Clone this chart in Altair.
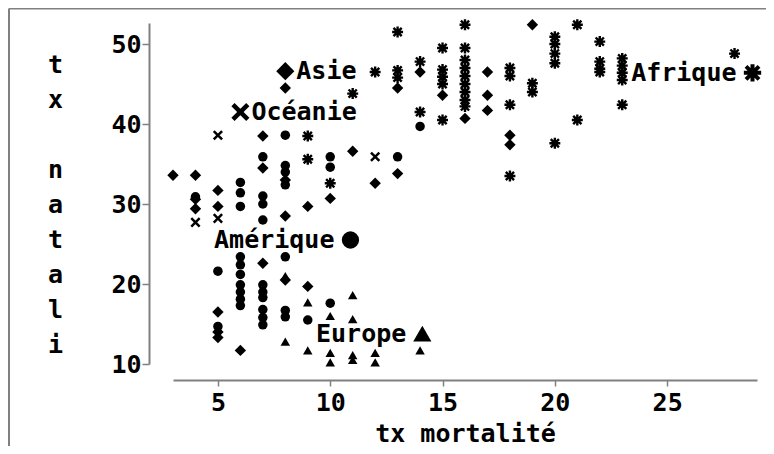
import altair as alt
import pandas as pd

FONT = "DejaVu Sans Mono"

# ---- data ----
afr_x = [13, 16, 21, 15, 16, 12, 13, 13, 14, 15, 15, 15, 16, 16, 16, 16, 16, 16, 16,
         18, 18, 19, 19, 20, 20, 20, 20, 22, 22, 22, 23, 23, 23, 23, 23, 21, 20, 18,
         18, 15, 14, 11, 9, 9, 10, 28, 22]
afr_y = [51.5, 52.4, 52.4, 49.5, 49.5, 46.5, 46.7, 45.8, 47.8, 46.8, 45.9, 45.0, 48.0,
         47.0, 46.0, 45.0, 44.0, 43.0, 42.2, 47.0, 46.0, 45.1, 44.0, 50.9, 50.0, 48.8,
         47.6, 50.3, 47.8, 46.5, 48.2, 47.3, 46.4, 45.5, 42.4, 40.5, 37.6, 42.4, 33.5,
         40.5, 41.5, 43.8, 38.5, 35.6, 32.6, 48.8, 46.9]

asi_x = [8, 3, 4, 5, 4, 4, 5, 7, 8, 9, 10, 7, 8, 9, 6, 5, 5, 5, 12, 13, 13, 15, 16,
         17, 17, 17, 18, 18, 19, 14, 7, 11, 8]
asi_y = [44.5, 33.6, 33.6, 31.7, 30.6, 29.4, 29.7, 34.5, 33.0, 29.7, 30.7, 22.6, 20.5,
         19.7, 11.7, 16.5, 14.0, 13.3, 32.6, 33.8, 44.5, 43.6, 40.7, 46.5, 43.6, 41.7,
         38.6, 37.4, 52.4, 46.5, 38.5, 36.6, 28.5]

oce_x = [5, 12, 4, 5]
oce_y = [38.6, 35.9, 27.7, 28.2]

ame_x = [8, 7, 10, 10, 13, 14, 6, 6, 6, 7, 7, 8, 8, 8, 4, 7, 5, 6, 6, 6, 8, 6, 6, 6,
         6, 7, 7, 7, 7, 7, 7, 8, 8, 5, 10, 9]
ame_y = [38.6, 35.9, 35.9, 34.6, 35.9, 39.7, 32.7, 31.4, 29.7, 31.0, 30.0, 34.8, 34.0,
         32.4, 30.9, 28.0, 21.6, 23.4, 22.4, 21.2, 23.4, 19.9, 19.0, 18.1, 17.3, 19.9,
         19.0, 18.3, 16.8, 15.8, 14.9, 16.7, 15.9, 14.7, 17.6, 15.5]

eur_x = [8, 9, 11, 11, 8, 9, 10, 10, 11, 11, 12, 12, 14, 10]
eur_y = [21.0, 17.7, 18.6, 15.6, 12.8, 11.7, 11.4, 10.2, 11.1, 10.5, 11.4, 10.2, 11.7, 16.0]

cont_names = ["Afrique", "Asie", "Océanie", "Amérique", "Europe"]
cont_x = [28.8, 8.0, 6.0, 10.9, 14.1]
cont_y = [46.4, 46.6, 41.5, 25.5, 13.8]

x_ticks = [5, 10, 15, 20, 25]
y_ticks = [10, 20, 30, 40, 50]
x_title = "tx mortalité"
y_title = ["t", "x", "\u200b", "n", "a", "t", "a", "l", "i"]

# ---- tables ----
def table(xs, ys):
    return pd.DataFrame({"x": xs, "y": ys})

df_afr = table(afr_x, afr_y)
df_asi = table(asi_x, asi_y)
df_oce = table(oce_x, oce_y)
df_ame = table(ame_x, ame_y)
df_eur = table(eur_x, eur_y)
df_cent = pd.DataFrame({"name": cont_names, "x": cont_x, "y": cont_y})

GREY = "#808080"
xscale = alt.Scale(domain=[3, 29], nice=False, zero=False)
yscale = alt.Scale(domain=[10, 52.625], nice=False, zero=False)

x_axis = alt.Axis(values=x_ticks, title=x_title, offset=16, grid=False,
                  domainColor=GREY, domainWidth=2, tickColor=GREY, tickWidth=1.5, tickSize=6,
                  labelFont=FONT, labelFontSize=25, labelFontWeight="bold",
                  labelColor="black", labelPadding=4, labelFlush=False,
                  titleFont=FONT, titleFontSize=25, titleFontWeight="bold",
                  titleColor="black", titlePadding=6)
y_axis = alt.Axis(values=y_ticks, title=y_title, offset=24, grid=False,
                  domainColor=GREY, domainWidth=2, tickColor=GREY, tickWidth=1.5, tickSize=7,
                  labelFont=FONT, labelFontSize=25, labelFontWeight="bold",
                  labelColor="black", labelPadding=1, labelFlush=False,
                  titleFont=FONT, titleFontSize=25, titleFontWeight="bold",
                  titleColor="black", titleAngle=0, titleAlign="center",
                  titleBaseline="middle", titleX=-94, titleY=41, titleLineHeight=35)

X = alt.X("x:Q", scale=xscale, axis=x_axis)
Y = alt.Y("y:Q", scale=yscale, axis=y_axis)
Xn = alt.X("x:Q", scale=xscale)
Yn = alt.Y("y:Q", scale=yscale)

STAR = "M0,-1L0,1M-1,0L1,0M-0.75,-0.75L0.75,0.75M-0.75,0.75L0.75,-0.75"
CROSS = "M-1,-1L1,1M-1,1L1,-1"

layers = []
layers.append(alt.Chart(df_afr).mark_point(shape=STAR, filled=False, color="black", opacity=1,
                                             strokeWidth=2.4, size=120).encode(x=X, y=Y))
layers.append(alt.Chart(df_afr).mark_circle(color="black", opacity=1, size=35).encode(x=Xn, y=Yn))
layers.append(alt.Chart(df_asi).mark_point(shape="diamond", filled=True, color="black",
                                             opacity=1, size=130).encode(x=Xn, y=Yn))
layers.append(alt.Chart(df_oce).mark_point(shape=CROSS, filled=False, color="black", opacity=1,
                                             strokeWidth=2.5, size=70).encode(x=Xn, y=Yn))
layers.append(alt.Chart(df_ame).mark_circle(color="black", opacity=1, size=90).encode(x=Xn, y=Yn))
layers.append(alt.Chart(df_eur).mark_point(shape="triangle-up", filled=True, color="black",
                                             opacity=1, size=90).encode(x=Xn, y=Yn))

# big centroid symbols
big = alt.Chart(df_cent)
layers.append(big.transform_filter(alt.datum.name == "Afrique").mark_point(
    shape=STAR, filled=False, color="black", opacity=1, strokeWidth=4, size=300).encode(x=Xn, y=Yn))
layers.append(big.transform_filter(alt.datum.name == "Afrique").mark_circle(
    color="black", opacity=1, size=60).encode(x=Xn, y=Yn))
layers.append(big.transform_filter(alt.datum.name == "Asie").mark_point(
    shape="diamond", filled=True, color="black", opacity=1, size=330).encode(x=Xn, y=Yn))
layers.append(big.transform_filter(alt.datum.name == "Océanie").mark_point(
    shape=CROSS, filled=False, color="black", opacity=1, strokeWidth=4.5, size=220).encode(x=Xn, y=Yn))
layers.append(big.transform_filter(alt.datum.name == "Amérique").mark_circle(
    color="black", opacity=1, size=300).encode(x=Xn, y=Yn))
layers.append(big.transform_filter(alt.datum.name == "Europe").mark_point(
    shape="triangle-up", filled=True, color="black", opacity=1, size=330).encode(x=Xn, y=Yn))

# labels
left_names = ["Asie", "Océanie"]
layers.append(big.transform_filter(alt.FieldOneOfPredicate(field="name", oneOf=left_names))
              .mark_text(font=FONT, fontSize=25, fontWeight="bold", color="black",
                         align="left", baseline="middle", dx=11)
              .encode(x=Xn, y=Yn, text="name:N"))
layers.append(big.transform_filter(~alt.FieldOneOfPredicate(field="name", oneOf=left_names))
              .mark_text(font=FONT, fontSize=25, fontWeight="bold", color="black",
                         align="right", baseline="middle", dx=-16)
              .encode(x=Xn, y=Yn, text="name:N"))

# outer frame (top and left edges)
frame_src = alt.Chart(pd.DataFrame({"k": [0]}))
layers.append(frame_src.mark_rule(color=GREY, strokeWidth=2, opacity=1).encode(
    x=alt.value(-164), y=alt.value(-14.5), y2=alt.value(440)))
layers.append(frame_src.mark_rule(color=GREY, strokeWidth=2, opacity=1).encode(
    x=alt.value(-164), x2=alt.value(620), y=alt.value(-14.5)))

chart = alt.layer(*layers).properties(
    width=584, height=341,
    autosize=alt.AutoSizeParams(type="none"),
    padding={"left": 165, "top": 15, "right": 9, "bottom": 82},
    background="white",
).configure_view(stroke=None)

chart.save("out.html", embed_options={"renderer": "svg", "actions": False})
